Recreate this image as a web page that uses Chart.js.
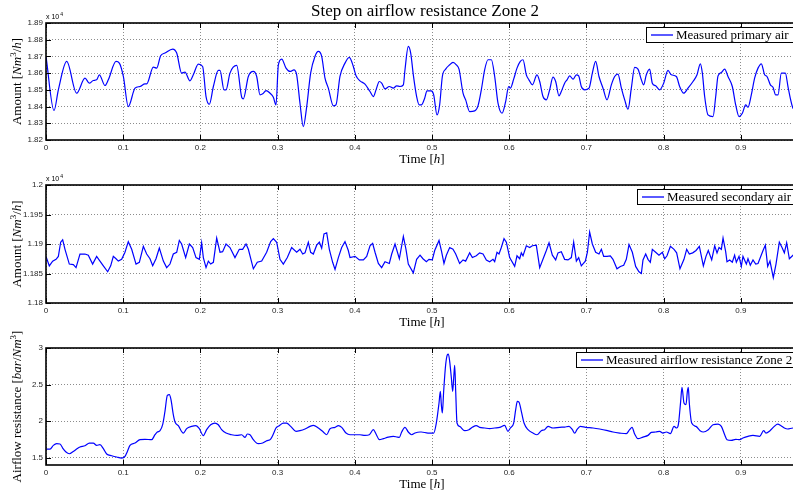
<!DOCTYPE html>
<html lang="en">
<head>
<meta charset="UTF-8" />
<title>Step on airflow resistance Zone 2</title>
<script src="https://cdn.jsdelivr.net/npm/chart.js"></script>
<style>
  html, body { margin: 0; padding: 0; background: #fff; overflow: hidden; }
  #wrap { position: relative; width: 793px; height: 494px; overflow: hidden; }
  #wrap canvas { position: absolute; left: 0; top: 0; }
</style>
</head>
<body>
<div id="wrap">
  <canvas id="primary" width="830" height="494"></canvas>
  <canvas id="secondary" width="830" height="494"></canvas>
  <canvas id="resistance" width="830" height="494"></canvas>
</div>
<script>
// time axis ticks (h)
const timeTicks = [0, 0.1, 0.2, 0.3, 0.4, 0.5, 0.6, 0.7, 0.8, 0.9, 1];

// measured primary air [Nm3/h]
const primaryTime = [0, 0.0104, 0.016, 0.0268, 0.0397, 0.0505, 0.0561, 0.0613, 0.0656, 0.0691, 0.0764, 0.0807, 0.0907, 0.095, 0.1002, 0.1066, 0.1153, 0.1218, 0.1282, 0.1304, 0.139, 0.1434, 0.1485, 0.1541, 0.1641, 0.1693, 0.1757, 0.18, 0.1865, 0.1908, 0.1973, 0.2029, 0.2073, 0.2116, 0.2168, 0.2232, 0.2254, 0.2306, 0.2332, 0.2383, 0.247, 0.2535, 0.2556, 0.2621, 0.2686, 0.2729, 0.2772, 0.2807, 0.285, 0.2902, 0.2945, 0.2979, 0.301, 0.3053, 0.3109, 0.3161, 0.3212, 0.3247, 0.329, 0.3333, 0.3377, 0.3428, 0.3484, 0.3528, 0.3571, 0.3614, 0.3657, 0.3722, 0.3756, 0.3808, 0.3873, 0.3929, 0.3981, 0.4016, 0.4067, 0.4132, 0.4197, 0.424, 0.4275, 0.4318, 0.4348, 0.4391, 0.4447, 0.4499, 0.4542, 0.4585, 0.4629, 0.465, 0.4693, 0.4724, 0.4758, 0.4801, 0.4835, 0.4862, 0.4905, 0.4935, 0.4991, 0.5022, 0.5065, 0.5099, 0.5134, 0.5177, 0.5229, 0.5272, 0.5315, 0.535, 0.5402, 0.5436, 0.5488, 0.5553, 0.5596, 0.5639, 0.5682, 0.5725, 0.5769, 0.5812, 0.5855, 0.5907, 0.5954, 0.5993, 0.6015, 0.6058, 0.6101, 0.6144, 0.6179, 0.6222, 0.6256, 0.63, 0.636, 0.6395, 0.6438, 0.6481, 0.6524, 0.6567, 0.6602, 0.6645, 0.6675, 0.6718, 0.6749, 0.6783, 0.6827, 0.687, 0.69, 0.6934, 0.6978, 0.7034, 0.7077, 0.712, 0.7163, 0.7215, 0.7267, 0.7323, 0.7366, 0.7409, 0.7453, 0.7496, 0.7539, 0.7582, 0.7625, 0.7668, 0.7712, 0.7742, 0.7776, 0.7819, 0.7854, 0.7897, 0.7949, 0.8001, 0.8057, 0.81, 0.8165, 0.8208, 0.826, 0.8316, 0.8381, 0.8433, 0.8476, 0.8502, 0.8532, 0.8575, 0.864, 0.8675, 0.8705, 0.8748, 0.8791, 0.8834, 0.889, 0.8934, 0.8977, 0.902, 0.9063, 0.9093, 0.9136, 0.9179, 0.9223, 0.9266, 0.9309, 0.9339, 0.9383, 0.9417, 0.9452, 0.9482, 0.9525, 0.9577, 0.9611, 0.9646, 0.9676, 0.972];
const primaryFlow = [18700, 18376, 18500, 18670, 18480, 18570, 18540, 18556, 18560, 18590, 18526, 18560, 18670, 18660, 18580, 18400, 18510, 18520, 18536, 18536, 18636, 18630, 18704, 18720, 18744, 18720, 18600, 18606, 18554, 18590, 18654, 18640, 18460, 18414, 18520, 18616, 18616, 18500, 18500, 18600, 18646, 18456, 18446, 18580, 18610, 18580, 18470, 18476, 18496, 18480, 18456, 18410, 18650, 18684, 18630, 18610, 18620, 18590, 18420, 18280, 18400, 18600, 18700, 18730, 18700, 18570, 18510, 18404, 18410, 18580, 18660, 18694, 18640, 18584, 18554, 18534, 18490, 18460, 18500, 18550, 18540, 18506, 18520, 18510, 18524, 18520, 18530, 18620, 18760, 18720, 18590, 18460, 18410, 18410, 18450, 18494, 18494, 18470, 18350, 18410, 18580, 18624, 18650, 18664, 18650, 18624, 18480, 18440, 18370, 18374, 18404, 18500, 18620, 18680, 18680, 18580, 18420, 18360, 18430, 18520, 18510, 18564, 18630, 18670, 18680, 18590, 18560, 18530, 18590, 18550, 18460, 18440, 18500, 18576, 18550, 18464, 18490, 18540, 18560, 18584, 18564, 18590, 18584, 18520, 18500, 18510, 18600, 18670, 18580, 18510, 18440, 18530, 18580, 18594, 18510, 18440, 18384, 18510, 18634, 18624, 18560, 18530, 18590, 18624, 18540, 18524, 18500, 18540, 18616, 18590, 18580, 18520, 18480, 18510, 18550, 18590, 18656, 18600, 18460, 18350, 18340, 18460, 18584, 18604, 18624, 18580, 18520, 18410, 18340, 18360, 18410, 18396, 18470, 18570, 18630, 18656, 18590, 18580, 18530, 18516, 18470, 18470, 18600, 18600, 18520, 18440, 18390, 18375];
const primaryTicks = [18200, 18300, 18400, 18500, 18600, 18700, 18800, 18900];

// measured secondary air [Nm3/h]
const secondaryTime = [0, 0.0043, 0.0086, 0.013, 0.016, 0.019, 0.0216, 0.0246, 0.0302, 0.0354, 0.0389, 0.044, 0.0505, 0.0548, 0.0604, 0.0656, 0.0699, 0.0743, 0.0799, 0.0838, 0.0872, 0.0907, 0.0937, 0.098, 0.1023, 0.1066, 0.111, 0.1166, 0.1209, 0.1261, 0.1304, 0.1347, 0.1382, 0.1425, 0.1468, 0.152, 0.1563, 0.1606, 0.1649, 0.1693, 0.1727, 0.1757, 0.1809, 0.1857, 0.19, 0.1943, 0.1986, 0.2016, 0.2038, 0.2073, 0.2103, 0.2133, 0.2168, 0.2211, 0.2254, 0.2288, 0.2332, 0.2383, 0.2448, 0.2504, 0.2547, 0.2591, 0.2621, 0.2686, 0.2737, 0.2794, 0.2858, 0.291, 0.2945, 0.2988, 0.3031, 0.3074, 0.3126, 0.3182, 0.3247, 0.329, 0.3325, 0.3355, 0.3398, 0.3428, 0.3463, 0.3506, 0.3541, 0.3571, 0.3601, 0.3636, 0.367, 0.3713, 0.3744, 0.3787, 0.383, 0.3873, 0.3916, 0.3938, 0.4003, 0.4059, 0.4111, 0.4154, 0.4197, 0.4231, 0.4262, 0.4305, 0.4348, 0.4391, 0.4447, 0.4478, 0.4521, 0.4577, 0.4629, 0.4663, 0.4693, 0.4758, 0.4801, 0.4845, 0.4883, 0.4927, 0.4961, 0.5004, 0.5035, 0.5091, 0.5121, 0.5155, 0.5186, 0.5229, 0.5272, 0.5307, 0.5358, 0.5402, 0.5436, 0.5488, 0.5523, 0.5574, 0.5617, 0.5661, 0.5704, 0.5747, 0.579, 0.5812, 0.5842, 0.5868, 0.5898, 0.5933, 0.5963, 0.6006, 0.6071, 0.6101, 0.6136, 0.6157, 0.6179, 0.6222, 0.6265, 0.63, 0.6351, 0.6395, 0.6446, 0.6481, 0.6516, 0.6559, 0.6602, 0.6632, 0.6675, 0.6718, 0.6762, 0.6805, 0.6835, 0.687, 0.69, 0.6934, 0.6986, 0.7013, 0.7042, 0.7077, 0.712, 0.7163, 0.7194, 0.7224, 0.7267, 0.731, 0.7344, 0.7396, 0.744, 0.7483, 0.7517, 0.7552, 0.7595, 0.7638, 0.7681, 0.7712, 0.7733, 0.7768, 0.7798, 0.7828, 0.7854, 0.7897, 0.794, 0.7984, 0.8014, 0.8044, 0.8088, 0.8135, 0.8169, 0.8212, 0.8264, 0.8299, 0.8333, 0.8377, 0.842, 0.8463, 0.8515, 0.8549, 0.8579, 0.8623, 0.8662, 0.8692, 0.8718, 0.8748, 0.877, 0.8804, 0.8821, 0.8856, 0.889, 0.892, 0.8942, 0.8977, 0.9007, 0.9028, 0.9072, 0.9093, 0.9123, 0.9158, 0.9193, 0.9223, 0.9253, 0.9288, 0.9318, 0.9348, 0.9378, 0.9421, 0.9456, 0.9499, 0.9534, 0.9564, 0.9594, 0.9629, 0.9676, 0.972];
const secondaryFlow = [11879, 11863, 11871, 11874, 11879, 11903, 11907, 11891, 11866, 11865, 11860, 11883, 11883, 11881, 11866, 11879, 11871, 11863, 11853, 11863, 11879, 11875, 11871, 11874, 11886, 11904, 11891, 11866, 11869, 11896, 11883, 11875, 11863, 11875, 11893, 11871, 11860, 11866, 11883, 11886, 11906, 11900, 11877, 11900, 11894, 11877, 11874, 11902, 11877, 11860, 11871, 11866, 11869, 11910, 11886, 11887, 11900, 11894, 11877, 11891, 11891, 11900, 11891, 11858, 11869, 11871, 11886, 11904, 11909, 11903, 11874, 11866, 11877, 11894, 11886, 11891, 11883, 11885, 11903, 11886, 11883, 11898, 11903, 11893, 11917, 11919, 11891, 11869, 11857, 11877, 11894, 11904, 11889, 11877, 11879, 11873, 11873, 11879, 11897, 11901, 11886, 11867, 11860, 11870, 11867, 11883, 11900, 11875, 11913, 11891, 11866, 11851, 11874, 11881, 11875, 11870, 11874, 11873, 11889, 11906, 11889, 11867, 11881, 11894, 11891, 11883, 11867, 11873, 11871, 11885, 11877, 11880, 11885, 11883, 11873, 11870, 11874, 11870, 11886, 11883, 11894, 11909, 11903, 11877, 11862, 11880, 11875, 11885, 11880, 11897, 11894, 11897, 11898, 11860, 11877, 11889, 11902, 11881, 11873, 11885, 11887, 11874, 11873, 11877, 11903, 11871, 11877, 11863, 11871, 11886, 11920, 11900, 11886, 11883, 11891, 11879, 11879, 11880, 11874, 11858, 11862, 11864, 11874, 11899, 11886, 11862, 11853, 11850, 11873, 11883, 11874, 11869, 11891, 11886, 11881, 11886, 11875, 11880, 11896, 11891, 11885, 11858, 11874, 11891, 11883, 11885, 11889, 11896, 11863, 11879, 11889, 11873, 11897, 11885, 11894, 11891, 11910, 11887, 11870, 11873, 11869, 11881, 11869, 11879, 11862, 11879, 11866, 11875, 11864, 11873, 11866, 11867, 11877, 11889, 11898, 11862, 11871, 11843, 11866, 11903, 11894, 11885, 11902, 11875, 11881, 11878];
const secondaryTicks = [11800, 11850, 11900, 11950, 12000];

// measured airflow resistance Zone 2 [bar/Nm3]
const resistanceTime = [0, 0.0052, 0.0095, 0.0138, 0.0181, 0.0216, 0.0259, 0.0302, 0.0354, 0.0397, 0.044, 0.0505, 0.0561, 0.0613, 0.0656, 0.0699, 0.0743, 0.0786, 0.0851, 0.0915, 0.098, 0.1023, 0.1054, 0.1088, 0.1153, 0.1218, 0.1282, 0.1369, 0.1412, 0.1442, 0.1477, 0.1511, 0.1541, 0.1572, 0.1598, 0.1619, 0.1649, 0.1671, 0.1714, 0.1779, 0.1822, 0.1887, 0.1943, 0.1986, 0.2038, 0.2081, 0.2133, 0.2189, 0.2232, 0.2275, 0.2332, 0.2405, 0.247, 0.2535, 0.2578, 0.2608, 0.2642, 0.2686, 0.275, 0.2807, 0.2858, 0.291, 0.2945, 0.2979, 0.3022, 0.3074, 0.3117, 0.3169, 0.3238, 0.329, 0.3355, 0.342, 0.3463, 0.3528, 0.3592, 0.3636, 0.3679, 0.3744, 0.3787, 0.383, 0.3886, 0.3938, 0.4003, 0.4067, 0.4132, 0.4188, 0.424, 0.4275, 0.4318, 0.437, 0.4434, 0.4499, 0.4551, 0.4577, 0.4607, 0.465, 0.4693, 0.4737, 0.478, 0.4845, 0.4862, 0.4948, 0.5022, 0.5056, 0.5091, 0.5108, 0.5121, 0.5134, 0.5151, 0.5177, 0.5199, 0.5212, 0.5229, 0.5251, 0.5268, 0.5281, 0.5294, 0.5307, 0.5324, 0.5358, 0.5423, 0.5479, 0.5527, 0.5574, 0.5617, 0.5682, 0.5747, 0.5812, 0.5877, 0.5941, 0.5984, 0.6015, 0.6058, 0.6084, 0.6105, 0.6127, 0.6157, 0.6192, 0.6244, 0.6308, 0.636, 0.6416, 0.6459, 0.6503, 0.6567, 0.6654, 0.6718, 0.6775, 0.6818, 0.6848, 0.6878, 0.6921, 0.6991, 0.7086, 0.7172, 0.7258, 0.7344, 0.7431, 0.7517, 0.756, 0.7591, 0.7625, 0.7668, 0.7733, 0.7798, 0.7841, 0.7897, 0.7949, 0.7992, 0.8036, 0.8088, 0.8135, 0.8169, 0.8191, 0.8221, 0.8238, 0.8264, 0.829, 0.8308, 0.832, 0.8333, 0.8364, 0.842, 0.8472, 0.8515, 0.8579, 0.864, 0.8705, 0.8748, 0.8791, 0.8821, 0.8877, 0.8934, 0.8985, 0.9028, 0.9093, 0.9158, 0.9245, 0.9296, 0.9326, 0.9378, 0.9434, 0.9477, 0.9521, 0.9564, 0.9607, 0.9676, 0.972];
const resistanceValue = [1.618, 1.618, 1.668, 1.691, 1.687, 1.632, 1.577, 1.554, 1.586, 1.618, 1.646, 1.664, 1.7, 1.7, 1.668, 1.678, 1.623, 1.55, 1.527, 1.509, 1.495, 1.518, 1.586, 1.668, 1.7, 1.746, 1.751, 1.746, 1.814, 1.851, 1.869, 1.951, 2.134, 2.352, 2.362, 2.293, 2.088, 1.988, 1.938, 1.837, 1.897, 1.928, 1.938, 1.897, 1.801, 1.883, 1.951, 1.974, 1.951, 1.883, 1.837, 1.814, 1.805, 1.814, 1.778, 1.824, 1.814, 1.746, 1.691, 1.7, 1.732, 1.755, 1.824, 1.906, 1.938, 1.974, 1.974, 1.928, 1.86, 1.869, 1.892, 1.928, 1.942, 1.906, 1.851, 1.814, 1.897, 1.915, 1.938, 1.915, 1.837, 1.814, 1.814, 1.814, 1.805, 1.814, 1.883, 1.824, 1.746, 1.76, 1.782, 1.792, 1.782, 1.778, 1.851, 1.915, 1.851, 1.814, 1.837, 1.851, 1.851, 1.837, 1.837, 1.974, 2.248, 2.407, 2.225, 2.111, 2.407, 2.772, 2.909, 2.918, 2.818, 2.59, 2.407, 2.59, 2.763, 2.407, 1.974, 1.928, 1.869, 1.883, 1.919, 1.938, 1.915, 1.906, 1.897, 1.906, 1.915, 1.942, 1.86, 1.906, 1.974, 2.156, 2.27, 2.261, 2.134, 1.974, 1.883, 1.837, 1.814, 1.869, 1.883, 1.928, 1.906, 1.915, 1.919, 1.928, 1.883, 1.837, 1.883, 1.928, 1.915, 1.906, 1.892, 1.874, 1.851, 1.837, 1.828, 1.883, 1.915, 1.824, 1.76, 1.782, 1.805, 1.846, 1.851, 1.86, 1.837, 1.851, 1.828, 1.928, 1.906, 1.951, 2.27, 2.462, 2.248, 2.225, 2.407, 2.462, 2.248, 1.974, 1.928, 1.869, 1.851, 1.883, 1.951, 1.96, 1.928, 1.814, 1.746, 1.737, 1.751, 1.746, 1.769, 1.792, 1.805, 1.792, 1.869, 1.837, 1.869, 1.928, 1.96, 1.938, 1.906, 1.892, 1.906, 1.906];
const resistanceTicks = [1.5, 2, 2.5, 3];

const SERIF = "'Liberation Serif', 'DejaVu Serif', serif";
const SANS = "'Liberation Sans', Arial, sans-serif";
const BLUE = '#0000ff';

Chart.defaults.font.family = SANS;
Chart.defaults.font.size = 8;
Chart.defaults.color = '#262626';

// text made of roman / italic / superscript pieces, centred on x
function drawRich(ctx, parts, x, y, size) {
  const fontOf = (s) => s === 'i' ? `italic ${size}px ${SERIF}` : s === 's' ? `${Math.round(size * 0.7)}px ${SERIF}` : `${size}px ${SERIF}`;
  let total = 0;
  parts.forEach(p => { ctx.font = fontOf(p[1]); total += ctx.measureText(p[0]).width; });
  let cx = x - total / 2;
  ctx.textAlign = 'left';
  ctx.textBaseline = 'middle';
  parts.forEach(p => {
    ctx.font = fontOf(p[1]);
    ctx.fillText(p[0], cx, p[1] === 's' ? y - size * 0.35 : y);
    cx += ctx.measureText(p[0]).width;
  });
}

const decor = {
  id: 'decor',
  afterDraw(chart, args, o) {
    const ctx = chart.ctx, a = chart.chartArea;
    const xs = chart.scales.x, ys = chart.scales.y;
    ctx.save();
    ctx.fillStyle = '#000';
    ctx.strokeStyle = '#000';
    // inward tick marks
    ctx.lineWidth = 1;
    ctx.beginPath();
    xs.ticks.forEach(t => {
      const px = Math.round(xs.getPixelForValue(t.value)) + 0.5;
      ctx.moveTo(px, a.bottom); ctx.lineTo(px, a.bottom - 5);
      ctx.moveTo(px, a.top); ctx.lineTo(px, a.top + 5);
    });
    ys.ticks.forEach(t => {
      const py = Math.round(ys.getPixelForValue(t.value)) + 0.5;
      ctx.moveTo(a.left, py); ctx.lineTo(a.left + 5, py);
      ctx.moveTo(a.right, py); ctx.lineTo(a.right - 5, py);
    });
    ctx.stroke();
    // axes box
    ctx.lineWidth = 1.6;
    ctx.strokeRect(a.left, a.top, a.right - a.left, a.bottom - a.top);

    // legend, inside the top right corner
    const lx = o.legendX, ly = a.top + 4, lh = 15;
    ctx.fillStyle = '#fff';
    ctx.fillRect(lx, ly, a.right - 8 - lx, lh);
    ctx.lineWidth = 1;
    ctx.strokeRect(lx + 0.5, ly + 0.5, a.right - 8 - lx, lh);
    ctx.strokeStyle = BLUE;
    ctx.lineWidth = 1.3;
    ctx.beginPath();
    ctx.moveTo(lx + 5, ly + lh / 2 + 0.5); ctx.lineTo(lx + 27, ly + lh / 2 + 0.5);
    ctx.stroke();
    ctx.fillStyle = '#000';
    ctx.font = `13px ${SERIF}`;
    ctx.textAlign = 'left';
    ctx.textBaseline = 'middle';
    ctx.fillText(o.legend, lx + 30, ly + lh / 2 + 1);

    // x 10^4 multiplier
    if (o.exponent) {
      ctx.font = `7px ${SANS}`;
      ctx.textBaseline = 'alphabetic';
      ctx.fillText('x 10', a.left, a.top - 4);
      const w = ctx.measureText('x 10').width;
      ctx.font = `5px ${SANS}`;
      ctx.fillText('4', a.left + w + 1, a.top - 7);
    }

    // axis labels
    drawRich(ctx, [['Time ['], ['h', 'i'], [']']], 422, a.bottom + 20, 13);
    ctx.save();
    ctx.translate(18, (a.top + a.bottom) / 2);
    ctx.rotate(-Math.PI / 2);
    drawRich(ctx, o.yLabel, 0, 0, 13);
    ctx.restore();

    if (o.title) {
      drawRich(ctx, [[o.title]], 425, 12, 17);
    }
    ctx.restore();
  }
};

function makePanel(id, times, values, cfg) {
  new Chart(document.getElementById(id), {
    type: 'line',
    data: {
      datasets: [{
        data: times.map((t, i) => ({ x: t, y: values[i] })),
        borderColor: BLUE,
        borderWidth: 1.2,
        pointRadius: 0,
        fill: false,
        tension: cfg.smooth ? 0.4 : 0,
        cubicInterpolationMode: cfg.smooth ? 'monotone' : 'default'
      }]
    },
    options: {
      responsive: false,
      animation: false,
      events: [],
      layout: { padding: { left: 0, right: 12, top: cfg.top, bottom: 494 - cfg.bottom - 20 } },
      scales: {
        x: {
          type: 'linear',
          min: 0,
          max: 1,
          afterFit: (s) => { s.height = 20; },
          afterBuildTicks: (s) => { s.ticks = timeTicks.map(v => ({ value: v })); },
          ticks: { padding: 3, maxRotation: 0, autoSkip: false, callback: (v) => String(+v.toFixed(2)) },
          grid: { color: '#8c8c8c', lineWidth: 1, drawTicks: false },
          border: { display: false, dash: [1, 2] }
        },
        y: {
          type: 'linear',
          min: cfg.min,
          max: cfg.max,
          afterFit: (s) => { s.width = 46; },
          afterBuildTicks: (s) => { s.ticks = cfg.ticks.map(v => ({ value: v })); },
          ticks: { padding: 3, autoSkip: false, callback: (v) => String(+(v / cfg.scale).toFixed(4)) },
          grid: { color: '#8c8c8c', lineWidth: 1, drawTicks: false },
          border: { display: false, dash: [1, 2] }
        }
      },
      plugins: {
        legend: { display: false },
        tooltip: { enabled: false },
        decor: cfg.decor
      }
    },
    plugins: [decor]
  });
}

makePanel('primary', primaryTime, primaryFlow, {
  top: 23, bottom: 140, min: 18200, max: 18900, ticks: primaryTicks, scale: 10000, smooth: true,
  decor: {
    title: 'Step on airflow resistance Zone 2',
    legend: 'Measured primary air',
    legendX: 646,
    exponent: true,
    yLabel: [['Amount ['], ['Nm', 'i'], ['3', 's'], ['/'], ['h', 'i'], [']']]
  }
});

makePanel('secondary', secondaryTime, secondaryFlow, {
  top: 185, bottom: 303, min: 11800, max: 12000, ticks: secondaryTicks, scale: 10000, smooth: false,
  decor: {
    legend: 'Measured secondary air',
    legendX: 637,
    exponent: true,
    yLabel: [['Amount ['], ['Nm', 'i'], ['3', 's'], ['/'], ['h', 'i'], [']']]
  }
});

makePanel('resistance', resistanceTime, resistanceValue, {
  top: 348, bottom: 465, min: 1.4, max: 3, ticks: resistanceTicks, scale: 1, smooth: true,
  decor: {
    legend: 'Measured airflow resistance Zone 2',
    legendX: 576,
    exponent: false,
    yLabel: [['Airflow resistance ['], ['bar', 'i'], ['/'], ['Nm', 'i'], ['3', 's'], [']']]
  }
});
</script>
</body>
</html>
